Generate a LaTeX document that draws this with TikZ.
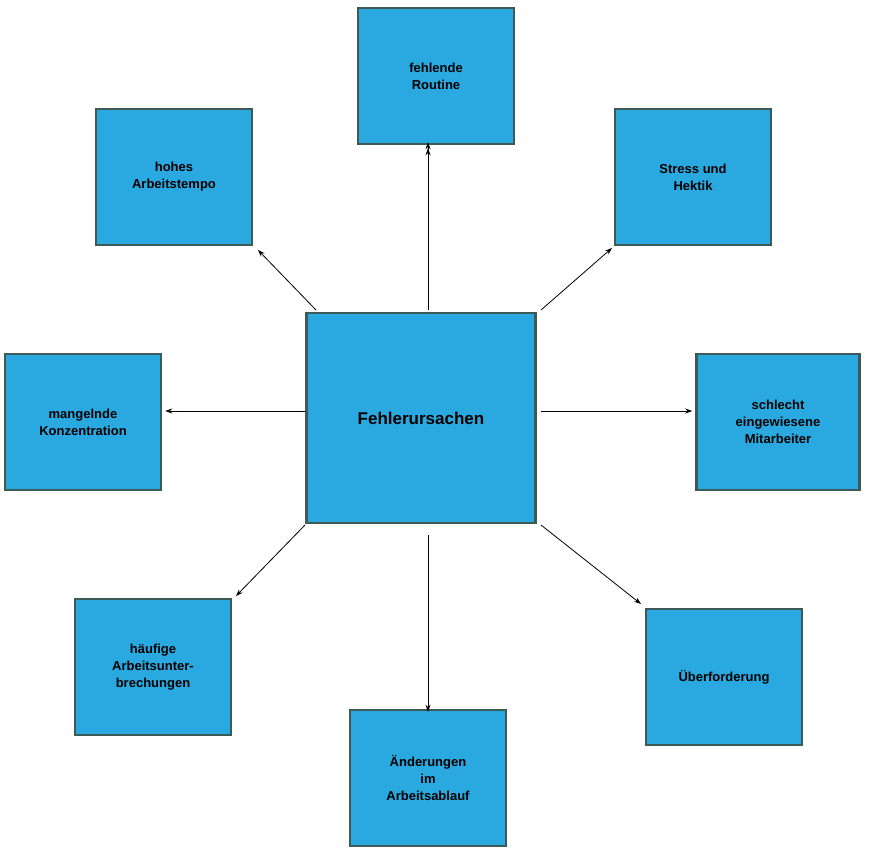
\documentclass[tikz,border=0pt]{standalone}
\usepackage{fontspec}
\setmainfont{Liberation Sans}
\usetikzlibrary{arrows.meta}
\definecolor{boxfill}{HTML}{29A9E0}
\definecolor{boxline}{HTML}{3E5A56}
\begin{document}
\begin{tikzpicture}[x=1pt,y=-1pt,
  box/.style={draw=boxline,line width=2.5pt,fill=boxfill,minimum width=156pt,minimum height=136pt,align=center,font=\fontsize{13}{17}\selectfont\bfseries,inner sep=0pt},
  arr/.style={-{Stealth[length=7pt,width=5pt]},line width=0.8pt}]
\useasboundingbox (0,0) rectangle (872,859);
\node[box] (r) at (436,76) {fehlende\\Routine};
\node[box] (h) at (174,177) {hohes\\Arbeitstempo};
\node[box] (s) at (693,177) {Stress und\\Hektik};
\node[box] (m) at (83,422) {mangelnde\\Konzentration};
\node[box,minimum width=229pt,minimum height=210pt,font=\fontsize{17}{20}\selectfont\bfseries] (c) at (421,418) {Fehlerursachen};
\node[box,minimum width=163pt] (e) at (778,422) {schlecht\\eingewiesene\\Mitarbeiter};
\node[box] (a) at (153,667) {häufige\\Arbeitsunter-\\brechungen};
\node[box] (n) at (428,778) {Änderungen\\im\\Arbeitsablauf};
\node[box] (u) at (724,677) {Überforderung};
\coordinate (p1) at (428,310);
\coordinate (p2) at (316,310);
\coordinate (p3) at (541,310);
\coordinate (p4) at (305,411);
\coordinate (p5) at (541,411);
\coordinate (p6) at (305,525);
\coordinate (p7) at (428,535);
\coordinate (p8) at (541,525);
\draw[arr] (p1) -- (p1 |- r.south) ++(0,3);
\draw[arr] (p1) -- ([yshift=3pt]p1 |- r.south);
\draw[arr] (p2) -- (258,250);
\draw[arr] (p3) -- (612,248);
\draw[arr] (p4) -- ([xshift=3pt]m.east |- p4);
\draw[arr] (p5) -- ([xshift=-3pt]e.west |- p5);
\draw[arr] (p6) -- (236,596);
\draw[arr] (p7) -- ([yshift=-3pt]p7 |- n.north);
\draw[arr] (p8) -- (641,604);
\end{tikzpicture}
\end{document}
